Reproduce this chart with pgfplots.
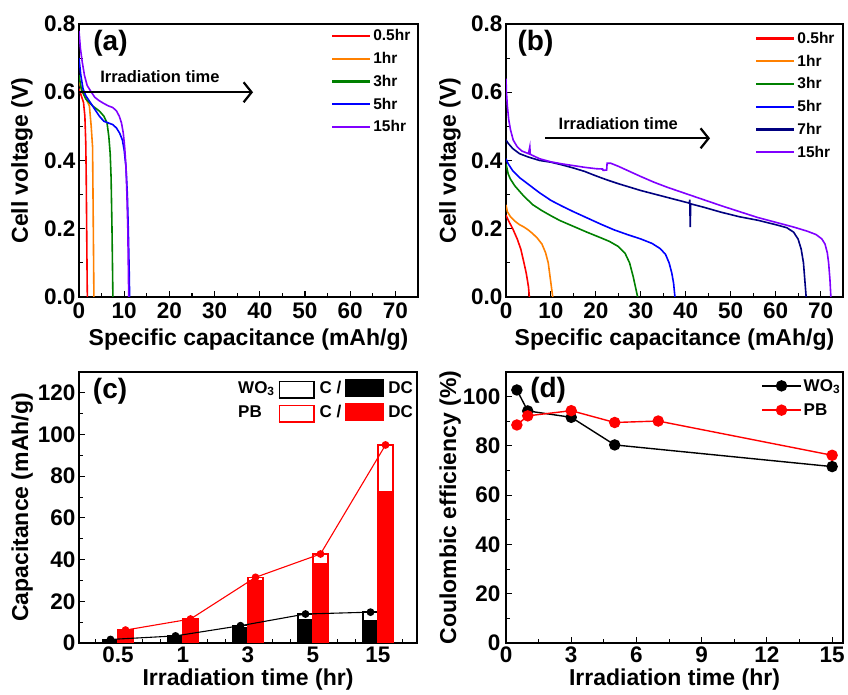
\documentclass[border=0pt]{standalone}
\usepackage{fontspec}
\setmainfont{Liberation Sans}
\usepackage{pgfplots}
\pgfplotsset{compat=1.18}
\usetikzlibrary{arrows.meta}
\definecolor{oorange}{RGB}{255,128,0}
\definecolor{ogreen}{RGB}{0,128,0}
\definecolor{oblue}{RGB}{0,0,255}
\definecolor{onavy}{RGB}{0,0,128}
\definecolor{oviolet}{RGB}{128,0,255}
\newcommand{\fs}[2]{\fontsize{#1}{#2}\selectfont\bfseries}
\pgfplotsset{
  orig/.style={
    scale only axis, anchor=south west,
    axis line style={line width=1.3pt},
    tick align=inside, xtick pos=bottom, ytick pos=left,
    major tick length=6pt, minor tick length=3.5pt,
    tick style={line width=1.1pt, black},
    tick label style={font=\fs{22.5}{27}},
    label style={font=\fs{23}{27}, inner sep=1pt},
    /pgf/number format/assume math mode=true,
    legend cell align=left,
  },
}
\begin{document}
\begin{tikzpicture}
\useasboundingbox (0,0) rectangle (848pt,695pt);
% ---------------- (a)
\begin{axis}[orig, at={(79pt,398pt)}, width=339pt, height=273pt,
  xmin=0, xmax=75, ymin=0, ymax=0.8,
  xtick={0,10,...,70}, ytick={0,0.2,0.4,0.6,0.8},
  minor x tick num=1, minor y tick num=1,
  xticklabel style={yshift=-2pt},
  yticklabel style={/pgf/number format/.cd,fixed,fixed zerofill,precision=1},
  xlabel={Specific capacitance (mAh/g)}, ylabel={Cell voltage (V)},
  xlabel style={at={(axis description cs:0.5,-0.155)},anchor=center},
  ylabel style={at={(axis description cs:-0.168,0.5)},anchor=center},
  legend image code/.code={\draw[#1, line width=2.2pt] (0pt,0pt) -- (38pt,0pt);},
  legend style={at={(0.749,1)}, anchor=north west, xshift=-2pt, yshift=-3.4pt, draw=none, fill=none, inner sep=0pt, row sep=6pt, nodes={inner sep=2pt}, font=\fs{15.5}{18}},
]
\addplot[red, line width=1.6pt] coordinates {(0,0.61)(0.5,0.59)(1,0.57)(1.3,0.53)(1.5,0.45)(1.6,0.35)(1.7,0.2)(1.8,0.05)(1.85,0)};
\addlegendentry{0.5hr}
\addplot[oorange, line width=1.6pt] coordinates {(0,0.63)(0.8,0.6)(1.6,0.58)(2.3,0.56)(2.7,0.5)(3.0,0.44)(3.1,0.3)(3.2,0.15)(3.3,0)};
\addlegendentry{1hr}
\addplot[ogreen, line width=1.6pt] coordinates {(0,0.65)(0.5,0.61)(1.5,0.58)(3,0.56)(4.5,0.545)(5.5,0.53)(6.2,0.51)(6.6,0.47)(6.9,0.42)(7.1,0.35)(7.3,0.2)(7.4,0.1)(7.5,0)};
\addlegendentry{3hr}
\addplot[oblue, line width=1.6pt] coordinates {(0,0.70)(0.4,0.65)(0.9,0.61)(1.5,0.59)(2.5,0.57)(3.5,0.55)(4.5,0.53)(5.5,0.515)(6.5,0.51)(7.5,0.505)(8.3,0.495)(9,0.48)(9.6,0.46)(10,0.43)(10.4,0.38)(10.7,0.3)(10.9,0.2)(11.1,0.08)(11.2,0)};
\addlegendentry{5hr}
\addplot[oviolet, line width=1.6pt] coordinates {(0,0.78)(0.3,0.73)(0.7,0.69)(1.2,0.65)(1.8,0.62)(2.5,0.605)(3.5,0.585)(4.5,0.575)(5.5,0.567)(6.5,0.56)(7.5,0.555)(8.3,0.545)(8.9,0.53)(9.4,0.51)(9.8,0.48)(10.1,0.44)(10.4,0.38)(10.6,0.3)(10.8,0.2)(10.9,0.1)(11,0)};
\addlegendentry{15hr}
\draw[line width=2.2pt, -{Straight Barb[length=8pt,width=20pt,line width=2.2pt]}] (axis cs:0,0.6) -- (axis cs:38.5,0.6);
\node[font=\fs{16.5}{20}] at (axis cs:17.9,0.645) {Irradiation time};
\node[font=\fs{28}{32}] at (rel axis cs:0.093,0.93) {(a)};
\end{axis}
% ---------------- (b)
\begin{axis}[orig, at={(506pt,398pt)}, width=337pt, height=273pt,
  xmin=0, xmax=75, ymin=0, ymax=0.8,
  xtick={0,10,...,70}, ytick={0,0.2,0.4,0.6,0.8},
  minor x tick num=1, minor y tick num=1,
  xticklabel style={yshift=-2pt},
  yticklabel style={/pgf/number format/.cd,fixed,fixed zerofill,precision=1},
  xlabel={Specific capacitance (mAh/g)}, ylabel={Cell voltage (V)},
  xlabel style={at={(axis description cs:0.5,-0.155)},anchor=center},
  ylabel style={at={(axis description cs:-0.166,0.5)},anchor=center},
  legend image code/.code={\draw[#1, line width=2.2pt] (0pt,0pt) -- (38pt,0pt);},
  legend style={at={(0.745,1)}, anchor=north west, xshift=-2pt, yshift=-6pt, draw=none, fill=none, inner sep=0pt, row sep=6pt, nodes={inner sep=2pt}, font=\fs{15.5}{18}},
]
\addplot[red, line width=1.6pt] coordinates {(0,0.24)(0.5,0.225)(1.5,0.2)(2.5,0.17)(3.3,0.14)(4,0.1)(4.5,0.07)(5,0.03)(5.2,0)};
\addlegendentry{0.5hr}
\addplot[oorange, line width=1.6pt] coordinates {(0,0.27)(0.3,0.25)(1,0.235)(2,0.222)(3,0.212)(4,0.205)(5,0.196)(6,0.185)(7,0.172)(8,0.155)(8.8,0.13)(9.4,0.1)(9.9,0.05)(10.4,0)};
\addlegendentry{1hr}
\addplot[ogreen, line width=1.6pt] coordinates {(0,0.39)(0.5,0.36)(1,0.345)(2,0.325)(4,0.295)(6,0.27)(8,0.253)(10,0.238)(12,0.224)(15,0.207)(18,0.19)(21,0.174)(23,0.163)(25,0.148)(26.5,0.128)(27.5,0.1)(28.3,0.06)(28.8,0.03)(29.3,0)};
\addlegendentry{3hr}
\addplot[oblue, line width=1.6pt] coordinates {(0,0.405)(0.5,0.39)(1.5,0.37)(3,0.35)(5,0.33)(7.5,0.305)(10,0.283)(12.5,0.266)(15,0.25)(18,0.232)(21,0.214)(24,0.197)(27,0.183)(30,0.17)(32.5,0.157)(34.3,0.142)(35.5,0.125)(36.3,0.1)(36.9,0.07)(37.3,0.04)(37.6,0)};
\addlegendentry{5hr}
\addplot[onavy, line width=1.6pt] coordinates {(0,0.46)(0.5,0.45)(1.5,0.435)(3,0.42)(5,0.41)(7.5,0.40)(10,0.395)(12.5,0.387)(15,0.378)(17.5,0.368)(20,0.355)(22.5,0.343)(25,0.332)(27.5,0.322)(30,0.312)(33.5,0.3)(37,0.288)(40.8,0.275)(40.9,0.285)(41,0.205)(41.1,0.273)(44,0.263)(48,0.248)(52,0.235)(56,0.225)(60,0.212)(62.5,0.203)(64,0.19)(65,0.17)(65.7,0.14)(66.2,0.1)(66.5,0.05)(66.8,0)};
\addlegendentry{7hr}
\addplot[oviolet, line width=1.6pt] coordinates {(0,0.64)(0.1,0.6)(0.3,0.56)(0.6,0.52)(1,0.49)(1.6,0.46)(2.5,0.44)(3.5,0.428)(5,0.42)(5.3,0.44)(5.4,0.418)(7.5,0.405)(10,0.396)(12.5,0.39)(15,0.385)(17.5,0.38)(20,0.376)(21.5,0.375)(21.6,0.371)(22.4,0.372)(22.5,0.392)(23.3,0.392)(25,0.383)(27.5,0.368)(30,0.353)(33,0.336)(36,0.321)(40,0.303)(44,0.285)(48,0.267)(52,0.25)(56,0.233)(60,0.219)(64,0.205)(67,0.193)(69,0.183)(70.3,0.17)(71,0.155)(71.5,0.13)(71.8,0.1)(72.1,0.05)(72.3,0)};
\addlegendentry{15hr}
\draw[line width=2.2pt, -{Straight Barb[length=8pt,width=20pt,line width=2.2pt]}] (axis cs:8.7,0.465) -- (axis cs:45.4,0.465);
\node[font=\fs{16.5}{20}] at (axis cs:25,0.507) {Irradiation time};
\node[font=\fs{28}{32}] at (rel axis cs:0.0875,0.93) {(b)};
\end{axis}
% ---------------- (c)
\begin{axis}[orig, at={(79pt,52pt)}, width=338pt, height=271pt,
  xmin=-0.6, xmax=4.6, ymin=0, ymax=130,
  xtick={0,1,2,3,4}, xticklabels={0.5,1,3,5,15},
  minor xtick={-0.35,0.38,0.65,1.38,1.65,2.38,2.65,3.38,3.65,4.38},
  ytick={0,20,...,120}, minor y tick num=1,
  xlabel={Irradiation time (hr)}, ylabel={Capacitance (mAh/g)},
  xlabel style={at={(axis description cs:0.5,-0.134)},anchor=center},
  ylabel style={at={(axis description cs:-0.168,0.5)},anchor=center},
]
\addplot[ybar, bar width=15pt, bar shift=-7.5pt, draw=black, fill=white, line width=1.3pt] coordinates {(0,1.7)(1,3.4)(2,8.3)(3,13.9)(4,14.8)};
\addplot[ybar, bar width=15pt, bar shift=-7.5pt, draw=black, fill=black, line width=1.3pt] coordinates {(0,1.75)(1,3.2)(2,7.6)(3,11.2)(4,10.6)};
\addplot[ybar, bar width=15pt, bar shift=7.5pt, draw=red, fill=white, line width=1.3pt] coordinates {(0,6.2)(1,11.5)(2,31.5)(3,42.7)(4,95)};
\addplot[ybar, bar width=15pt, bar shift=7.5pt, draw=red, fill=red, line width=1.3pt] coordinates {(0,5.5)(1,10.6)(2,29.7)(3,38.2)(4,72.4)};
\addplot[black, line width=1.1pt, mark=*, mark size=3.3pt] coordinates {(-0.1154,1.7)(0.8846,3.4)(1.8846,8.3)(2.8846,13.9)(3.8846,14.8)};
\addplot[red, line width=1.1pt, mark=*, mark size=3.3pt] coordinates {(0.1154,6.2)(1.1154,11.5)(2.1154,31.5)(3.1154,42.7)(4.1154,95)};
\node[font=\fs{28}{32}] at (rel axis cs:0.092,0.93) {(c)};
\end{axis}
\node[anchor=north west, inner sep=0pt, font=\fs{17}{20}] at (238pt,316pt) {%
\setlength{\fboxsep}{0pt}\setlength{\fboxrule}{1.5pt}%
\begin{tabular}{@{}l@{\hspace{4pt}}c@{\hspace{5pt}}l@{\hspace{4pt}}c@{\hspace{4pt}}l@{}}
WO\textsubscript{3} & \raisebox{-4pt}{\fcolorbox{black}{white}{\rule{0pt}{15pt}\hspace{33pt}}} & C / & \rule[-4pt]{39pt}{18pt} & DC\\[4pt]
PB & \raisebox{-4pt}{\fcolorbox{red}{white}{\rule{0pt}{15pt}\hspace{33pt}}} & C / & \textcolor{red}{\rule[-4pt]{39pt}{18pt}} & DC
\end{tabular}};
% ---------------- (d)
\begin{axis}[orig, at={(506pt,52pt)}, width=337pt, height=271pt,
  xmin=0, xmax=15.5, ymin=0, ymax=110,
  xtick={0,3,...,15}, minor x tick num=1,
  ytick={0,20,...,100}, minor y tick num=1,
  yticklabel style={xshift=-2pt},
  xlabel={Irradiation time (hr)}, ylabel={Coulombic efficiency (\%)},
  xlabel style={at={(axis description cs:0.5,-0.134)},anchor=center},
  ylabel style={at={(axis description cs:-0.166,0.5)},anchor=center},
  legend image code/.code={\draw[#1, mark repeat=2, mark phase=2] plot coordinates {(0pt,0pt) (19.5pt,0pt) (39pt,0pt)};},
  legend style={at={(0.763,1)}, anchor=north west, xshift=-2pt, yshift=-5pt, draw=none, fill=none, inner sep=0pt, row sep=7pt, nodes={inner sep=2pt}, font=\fs{17}{20}},
]
\addplot[black, line width=1.4pt, mark=*, mark size=5pt] coordinates {(0.5,102.7)(1,94.2)(3,91.6)(5,80.4)(15,71.6)};
\addlegendentry{WO\textsubscript{3}}
\addplot[red, line width=1.4pt, mark=*, mark size=5pt] coordinates {(0.5,88.5)(1,92.2)(3,94.3)(5,89.5)(7,90.1)(15,76.2)};
\addlegendentry{PB}
\node[font=\fs{28}{32}] at (rel axis cs:0.125,0.933) {(d)};
\end{axis}
\end{tikzpicture}
\end{document}
